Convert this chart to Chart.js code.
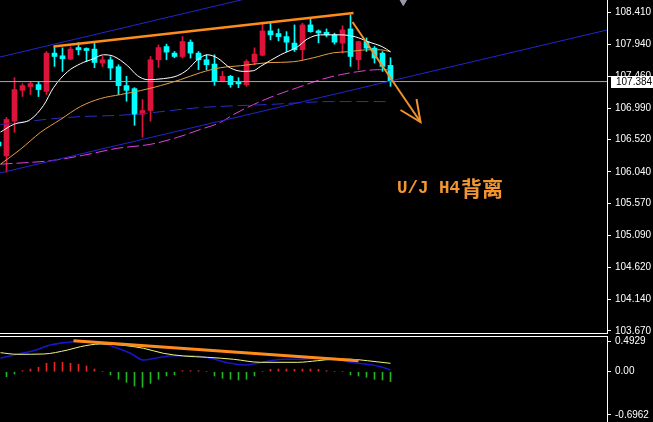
<!DOCTYPE html>
<html>
<head>
<meta charset="utf-8">
<script src="https://cdn.jsdelivr.net/npm/chart.js@4.4.1/dist/chart.umd.min.js"></script>
<style>
  body { margin: 0; background: #000; width: 653px; height: 422px; overflow: hidden; position: relative; }
  canvas { position: absolute; left: 0; }
  #main { top: 0; }
  #osc { top: 333px; }
  .sep { position: absolute; left: 0; width: 608px; height: 1px; background: #fff; }
</style>
</head>
<body>
<canvas id="main" width="653" height="338"></canvas>
<div class="sep" style="top:333px"></div>
<div class="sep" style="top:336px"></div>
<canvas id="osc" width="653" height="89"></canvas>
<script>
// H4 bars, oldest first
var opens  = [106.484, 106.277, 106.795, 107.254, 107.309, 107.339, 107.239, 107.808, 107.768, 107.719,
              107.891, 107.877, 107.868, 107.660, 107.709, 107.605, 107.324, 107.279, 106.897, 106.954,
              107.709, 107.906, 107.808, 107.758, 107.971, 107.808, 107.709, 107.645, 107.388, 107.462,
              107.373, 107.339, 107.675, 107.776, 108.139, 108.099, 108.054, 107.957, 107.857, 108.228,
              108.139, 108.119, 108.080, 107.957, 108.168, 107.709, 107.980, 107.882, 107.808, 107.625];
var highs  = [106.524, 106.850, 107.442, 107.354, 107.388, 107.388, 107.832, 107.906, 107.887, 107.902,
              107.965, 107.887, 107.961, 107.758, 107.754, 107.635, 107.462, 107.294, 107.117, 107.758,
              107.931, 107.942, 107.832, 108.054, 108.005, 107.832, 107.783, 107.783, 107.536, 107.477,
              107.442, 107.709, 107.887, 108.272, 108.257, 108.168, 108.128, 108.228, 108.253, 108.327,
              108.154, 108.168, 108.105, 108.217, 108.376, 107.985, 108.035, 107.906, 107.832, 107.739];
var lows   = [106.376, 106.035, 106.628, 107.161, 107.191, 107.161, 107.191, 107.610, 107.536, 107.709,
              107.783, 107.684, 107.591, 107.605, 107.413, 107.191, 107.091, 106.733, 106.554, 106.795,
              107.595, 107.709, 107.739, 107.734, 107.734, 107.561, 107.561, 107.328, 107.379, 107.299,
              107.294, 107.314, 107.635, 107.768, 108.005, 107.991, 107.832, 107.832, 107.709, 108.119,
              107.961, 108.050, 107.942, 107.808, 107.610, 107.561, 107.832, 107.660, 107.536, 107.314];
var closes = [106.425, 106.820, 107.265, 107.324, 107.354, 107.265, 107.808, 107.758, 107.724, 107.868,
              107.857, 107.847, 107.669, 107.709, 107.586, 107.324, 107.254, 106.897, 106.954, 107.709,
              107.891, 107.823, 107.758, 107.980, 107.808, 107.709, 107.635, 107.388, 107.462, 107.339,
              107.349, 107.684, 107.794, 108.139, 108.080, 108.054, 107.971, 107.857, 108.228, 108.128,
              108.109, 108.080, 107.971, 108.154, 107.758, 107.980, 107.882, 107.734, 107.610, 107.384];

// moving averages: [bar index, price]
var maWhite = [[0.25,106.632],[1.875,106.746],[4,106.82],[5.625,107.028],[6.875,107.294],[8.625,107.531],
  [10.25,107.65],[11.875,107.724],[13.125,107.783],[14.375,107.761],[16.125,107.62],[17.375,107.472],
  [18.625,107.413],[20.625,107.428],[22.375,107.472],[23.625,107.561],[24.875,107.709],[26.125,107.783],
  [27.375,107.734],[29,107.586],[30.625,107.536],[31.875,107.546],[32.75,107.61],[35.25,107.783],
  [37.375,107.902],[38.625,108.02],[40.25,108.08],[42.75,108.08],[44.625,108.05],[46.25,107.976],
  [48,107.902],[49,107.828]];
var maOrange = [[0.25,106.154],[2.75,106.376],[5.25,106.628],[7.75,106.82],[10.25,107.013],[12.75,107.131],
  [15.25,107.191],[17.75,107.25],[20.25,107.324],[22.75,107.413],[25.25,107.517],[27.75,107.591],
  [30.25,107.62],[33.625,107.665],[36.875,107.68],[39.375,107.739],[41.875,107.813],[43.625,107.828],
  [46.125,107.857],[47.75,107.857],[49,107.828]];
var maMagenta = [[0.25,106.154],[6.5,106.206],[10.625,106.287],[14.875,106.391],[19,106.45],[22.375,106.554],
  [25.25,106.672],[27.75,106.776],[29.375,106.894],[31.875,107.042],[34.875,107.191],[37.375,107.294],
  [40.25,107.413],[42.75,107.487],[44.875,107.531],[47.375,107.561],[49,107.561]];
var maBlue = [[0.25,106.746],[8.625,106.85],[16.875,106.895],[25.25,106.998],[33.625,107.042],[41.875,107.087],[49,107.087]];

// drawn objects: [bar index, price]
var channelTop = [[0.1875,107.750],[37.69,108.808]];
var channelBottom = [[0.1875,106.023],[76.06,108.152]];
var topTrend = [[6.875,107.907],[44.375,108.406]];
var arrowShaft = [[44.25,108.272],[52.75,106.782]];
var arrowHead = [[50.25,106.961],[52.75,106.782],[52.25,107.125]];
var noteLatin = 'U/J H4';
var noteCjk = '背离';
var notePos = [49.81, 105.80];

var priceTicks = [108.41, 107.94, 107.46, 106.99, 106.52, 106.04, 105.57, 105.09, 104.62, 104.14, 103.67];
var lastPrice = 107.384;

// MACD panel
var histValues = [0, -0.081, -0.037, 0.016, 0.043, 0.071, 0.135, 0.151, 0.151, 0.135,
                  0.119, 0.092, 0.043, 0, -0.053, -0.122, -0.171, -0.230, -0.251, -0.187,
                  -0.122, -0.069, -0.053, 0.016, 0.016, 0.016, 0, -0.069, -0.106, -0.122,
                  -0.134, -0.122, -0.069, 0, 0.039, 0.043, 0.043, 0.039, 0.043, 0.043,
                  0.039, 0.016, 0, 0, -0.053, -0.069, -0.090, -0.122, -0.134, -0.161];
var macdLine = [[0.25,0.216],[2.375,0.285],[4.375,0.338],[6.5,0.430],[8.625,0.473],[10.25,0.493],
  [12.375,0.473],[14.375,0.403],[16.5,0.296],[18.125,0.188],[19.875,0.225],[21.875,0.258],[24.375,0.258],
  [26.5,0.216],[28.625,0.145],[30.625,0.108],[32.375,0.135],[34,0.177],[35.625,0.200],[37.75,0.200],
  [39.875,0.216],[41.875,0.216],[44,0.151],[46.125,0.119],[47.75,0.081],[49,0.027]];
var signalLine = [[0.25,0.306],[2.375,0.280],[5.625,0.285],[8.625,0.349],[10.25,0.403],[12.75,0.446],
  [15.25,0.430],[18.125,0.377],[20.625,0.296],[23.125,0.253],[26.125,0.232],[29.375,0.200],[32.75,0.151],
  [37.375,0.151],[39.875,0.177],[41.875,0.200],[44,0.200],[46.125,0.177],[49,0.135]];
var oscTrend = [[9.375,0.499],[45,0.177]];
var oscTicks = [0.4929, 0, -0.6962];
var oscLabels = ['0.4929', '0.00', '-0.6962'];

var BULL = '#dc143c', BEAR = '#00ffff';
var xMin = 0.1875, xMax = 76.0625;
var axisFont = { family: 'Liberation Sans', size: 10 };

Chart.defaults.font.family = 'Liberation Sans';

var idx = opens.map(function (o, i) { return i; });

function candleColor(ctx) {
  var i = ctx.dataIndex;
  return closes[i] >= opens[i] ? BULL : BEAR;
}

function line(points, color, width, dash, order, smooth) {
  return {
    type: 'line',
    data: points.map(function (p) { return { x: p[0], y: p[1] }; }),
    borderColor: color,
    borderWidth: width,
    borderDash: dash || [],
    pointRadius: 0,
    cubicInterpolationMode: smooth ? 'monotone' : 'default',
    order: order
  };
}

function rightAxis(min, max, values, label) {
  return {
    position: 'right',
    min: min,
    max: max,
    afterFit: function (s) { s.width = 46; s.paddingTop = 0; s.paddingBottom = 0; },
    afterBuildTicks: function (s) { s.ticks = values.map(function (v) { return { value: v }; }); },
    ticks: { color: '#fff', font: axisFont, padding: 4, autoSkip: false, callback: label },
    grid: { drawOnChartArea: false, color: '#fff', tickLength: 4 },
    border: { color: '#fff' }
  };
}

var extras = {
  id: 'extras',
  afterDatasetsDraw: function (chart) {
    var ctx = chart.ctx, x = chart.scales.x, y = chart.scales.y;
    var px = x.getPixelForValue(notePos[0]), py = y.getPixelForValue(notePos[1]);
    ctx.save();
    ctx.fillStyle = '#f39530';
    ctx.textBaseline = 'middle';
    ctx.font = 'bold 17.5px "Liberation Mono"';
    ctx.fillText(noteLatin, px, py + 1);
    var w = ctx.measureText(noteLatin).width;
    ctx.font = 'bold 21px "Noto Sans CJK SC"';
    ctx.fillText(noteCjk, px + w + 1, py);
    ctx.restore();
  },
  afterDraw: function (chart) {
    var ctx = chart.ctx, y = chart.scales.y, area = chart.chartArea;
    var py = Math.round(y.getPixelForValue(lastPrice));
    ctx.save();
    ctx.fillStyle = '#fff';
    ctx.fillRect(area.right + 4, py - 6, 46, 12);
    ctx.fillStyle = '#000';
    ctx.font = '10px "Liberation Sans"';
    ctx.textBaseline = 'middle';
    ctx.fillText(lastPrice.toFixed(3), area.right + 9, py + 0.5);
    ctx.restore();
  }
};

var baseOptions = function (yAxis, pad) {
  return {
    responsive: false,
    animation: false,
    events: [],
    layout: { padding: pad, autoPadding: false },
    plugins: { legend: { display: false }, tooltip: { enabled: false } },
    scales: {
      x: { type: 'linear', min: xMin, max: xMax, offset: false, display: false, grid: { offset: false } },
      y: yAxis
    }
  };
};

new Chart(document.getElementById('main'), {
  type: 'bar',
  data: {
    datasets: [
      {
        data: idx.map(function (i) { return { x: i, y: [lows[i], highs[i]] }; }),
        backgroundColor: candleColor, barThickness: 1, grouped: false, order: 20
      },
      {
        data: idx.map(function (i) { return { x: i, y: [opens[i], closes[i]] }; }),
        backgroundColor: candleColor, barThickness: 5, minBarLength: 1, grouped: false, order: 19
      },
      line(maBlue, '#2b2bc8', 1, [12, 5], 10, true),
      line(maMagenta, '#e040e0', 1, [12, 4], 9, true),
      line(maOrange, '#e8a040', 1, null, 8, true),
      line(maWhite, '#ffffff', 1, null, 7, true),
      line([[xMin, lastPrice], [xMax, lastPrice]], '#a8a8a8', 1, null, 6),
      line(channelTop, '#2424d0', 1, null, 5),
      line(channelBottom, '#2424d0', 1, null, 5),
      line(topTrend, '#ff8c1a', 2.5, null, 4),
      line(arrowShaft, '#f0922e', 2, null, 3),
      line(arrowHead, '#f0922e', 2, null, 3),
      {
        type: 'line',
        data: [{ x: 50.6, y: 108.575 }],
        showLine: false, pointStyle: 'triangle', rotation: 180, pointRadius: 4,
        backgroundColor: '#9a9aa8', borderColor: '#9a9aa8', order: 2
      }
    ]
  },
  options: baseOptions(rightAxis(103.640, 108.599, priceTicks, function (v) { return Number(v).toFixed(3); }),
                       { top: 0, bottom: 5, left: 0, right: 0 }),
  plugins: [extras]
});

new Chart(document.getElementById('osc'), {
  type: 'bar',
  data: {
    datasets: [
      {
        data: idx.map(function (i) { return { x: i, y: histValues[i] }; }),
        backgroundColor: function (ctx) { return histValues[ctx.dataIndex] >= 0 ? '#e82828' : '#22b422'; },
        barThickness: 1, grouped: false, order: 10
      },
      line(macdLine, '#1616c8', 1.6, null, 5, true),
      line(signalLine, '#f4f47a', 1, null, 4, true),
      line(oscTrend, '#ff8c1a', 3, null, 3)
    ]
  },
  options: baseOptions(rightAxis(-0.8098, 0.5587, oscTicks, function (v, i) { return oscLabels[i]; }),
                       { top: 4, bottom: 0, left: 0, right: 0 })
});
</script>
</body>
</html>
